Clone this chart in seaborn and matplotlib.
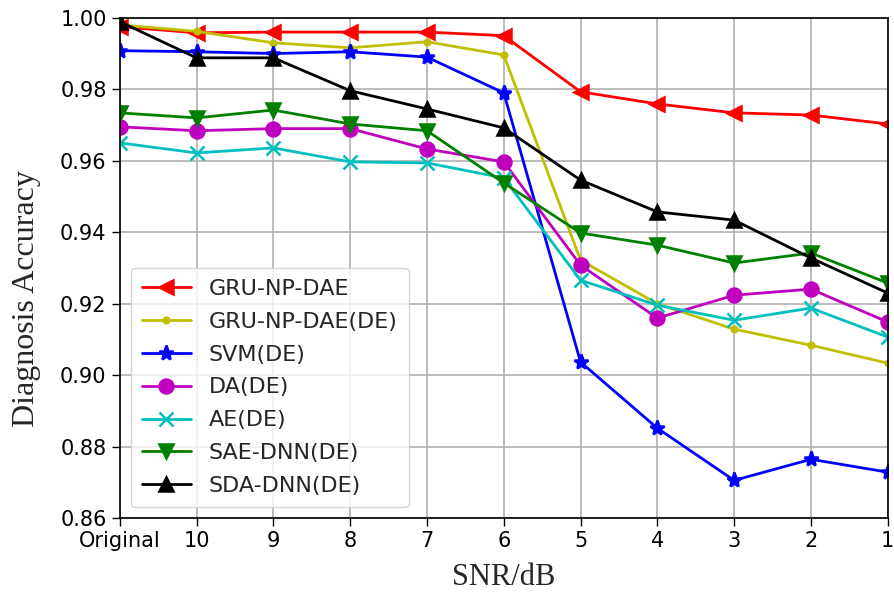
import matplotlib
matplotlib.use("Agg")
import matplotlib.pyplot as plt
import seaborn as sns
import pandas as pd

snr = ['Original', '10', '9', '8', '7', '6', '5', '4', '3', '2', '1']

gru_np_dae = [0.9975, 0.9958, 0.9960, 0.9960, 0.9960, 0.9950, 0.9793, 0.9759, 0.9734, 0.9728, 0.9703]
gru_np_dae_de = [0.9980, 0.9962, 0.9930, 0.9916, 0.9933, 0.9896, 0.9322, 0.9200, 0.9129, 0.9084, 0.9034]
svm_de = [0.9908, 0.9905, 0.9900, 0.9905, 0.9890, 0.9790, 0.9037, 0.8852, 0.8706, 0.8765, 0.8729]
da_de = [0.9695, 0.9684, 0.9690, 0.9690, 0.9633, 0.9597, 0.9308, 0.9160, 0.9224, 0.9241, 0.9149]
ae_de = [0.9650, 0.9622, 0.9636, 0.9597, 0.9594, 0.9552, 0.9266, 0.9196, 0.9154, 0.9188, 0.9107]
sae_dnn_de = [0.9734, 0.9720, 0.9742, 0.9703, 0.9684, 0.9538, 0.9398, 0.9364, 0.9314, 0.9342, 0.9258]
sda_dnn_de = [0.9989, 0.9888, 0.9888, 0.9796, 0.9745, 0.9692, 0.9546, 0.9457, 0.9434, 0.9328, 0.9230]

modelos = ['GRU-NP-DAE', 'GRU-NP-DAE(DE)', 'SVM(DE)', 'DA(DE)', 'AE(DE)', 'SAE-DNN(DE)', 'SDA-DNN(DE)']
valores = [gru_np_dae, gru_np_dae_de, svm_de, da_de, ae_de, sae_dnn_de, sda_dnn_de]
cores = ['#ff0000', '#bfbf00', '#0000ff', '#bf00bf', '#00bfbf', '#008000', '#000000']
marcadores = ['<', '.', '*', 'o', 'x', 'v', '^']
tamanhos = [10, 8, 11, 10, 10, 10, 10]

sns.set_style("whitegrid")
plt.rcParams['font.family'] = ['DejaVu Sans']

fig = plt.figure(figsize=(8.94, 5.93), dpi=100)
ax = fig.add_axes([0.134, 0.126, 0.859, 0.844])

for nome, vals, c, m, ms in zip(modelos, valores, cores, marcadores, tamanhos):
    d = pd.DataFrame({'SNR': snr, 'Accuracy': vals})
    sns.lineplot(data=d, x='SNR', y='Accuracy', color=c, marker=m, markersize=ms,
                 markeredgecolor=c, markeredgewidth=1.8, linewidth=2,
                 sort=False, label=nome, ax=ax)

ax.set_xlim(0, 10)
ax.set_ylim(0.86, 1.00)
ax.set_yticks([0.86, 0.88, 0.90, 0.92, 0.94, 0.96, 0.98, 1.00])
ax.tick_params(axis='both', direction='out', length=6, width=1, colors='black',
               labelsize=15, bottom=True, left=True)
ax.grid(True, color='#b0b0b0', linewidth=1.2)
for sp in ax.spines.values():
    sp.set_color('black')
    sp.set_linewidth(1.2)

ax.set_xlabel('SNR/dB', family='Liberation Serif', fontsize=22, labelpad=8)
ax.set_ylabel('Diagnosis Accuracy', family='Liberation Serif', fontsize=23)
ax.yaxis.set_label_coords(-0.103, 0.44)

ax.legend(loc='lower left', fontsize=16, frameon=True, borderaxespad=0.5,
          handlelength=2.2, labelspacing=0.58, borderpad=0.5)

fig.savefig('out.png', dpi=100)
